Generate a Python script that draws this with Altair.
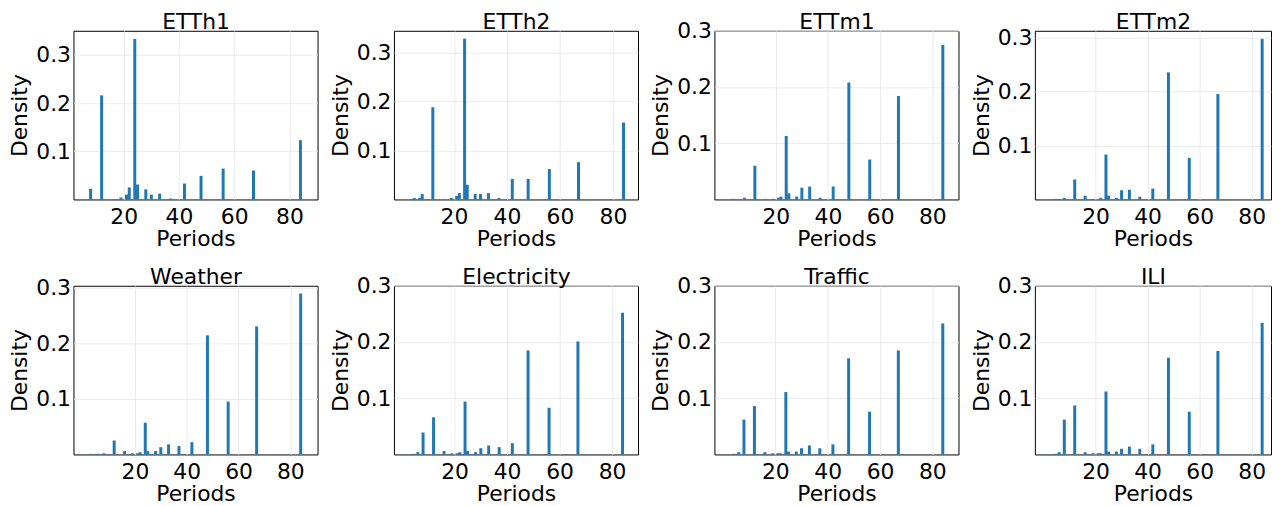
import altair as alt
import pandas as pd

# ---------------- data ----------------
titles = ["ETTh1", "ETTh2", "ETTm1", "ETTm2", "Weather", "Electricity", "Traffic", "ILI"]

periods_etth1 = [8, 12, 19, 21, 22, 24, 25, 28, 30, 33, 37, 42, 48, 56, 67, 84]
density_etth1 = [0.022, 0.216, 0.004, 0.010, 0.025, 0.333, 0.031, 0.021, 0.010, 0.012, 0.002,
                 0.033, 0.049, 0.064, 0.060, 0.123]

periods_etth2 = [4, 5, 7, 8, 12, 16, 19, 21, 22, 24, 25, 28, 30, 33, 37, 42, 48, 56, 67, 84]
density_etth2 = [0.001, 0.003, 0.003, 0.011, 0.188, 0.001, 0.003, 0.007, 0.013, 0.328, 0.030,
                 0.011, 0.011, 0.013, 0.003, 0.042, 0.042, 0.062, 0.076, 0.157]

periods_ettm1 = [3, 4, 6, 8, 12, 16, 19, 21, 22, 24, 25, 28, 30, 33, 37, 42, 48, 56, 67, 84]
density_ettm1 = [0.001, 0.001, 0.001, 0.003, 0.060, 0.001, 0.001, 0.003, 0.005, 0.113, 0.011,
                 0.005, 0.021, 0.023, 0.003, 0.023, 0.208, 0.071, 0.184, 0.275]

periods_ettm2 = [4, 5, 6, 8, 12, 16, 19, 21, 22, 24, 25, 28, 30, 33, 37, 42, 48, 56, 67, 84]
density_ettm2 = [0.001, 0.001, 0.001, 0.003, 0.037, 0.007, 0.001, 0.001, 0.003, 0.083, 0.007,
                 0.003, 0.017, 0.018, 0.005, 0.020, 0.235, 0.077, 0.195, 0.297]

periods_weather = [3, 5, 6, 8, 12, 16, 19, 21, 22, 24, 25, 28, 30, 33, 37, 42, 48, 56, 67, 84]
density_weather = [0.001, 0.001, 0.001, 0.002, 0.025, 0.006, 0.002, 0.002, 0.004, 0.057, 0.006,
                   0.006, 0.013, 0.018, 0.015, 0.022, 0.214, 0.095, 0.230, 0.289]

periods_electricity = [4, 5, 6, 8, 12, 16, 19, 21, 22, 24, 25, 28, 30, 33, 37, 42, 48, 56, 67, 84]
density_electricity = [0.001, 0.001, 0.004, 0.039, 0.066, 0.006, 0.002, 0.002, 0.004, 0.094, 0.006,
                       0.004, 0.011, 0.016, 0.013, 0.020, 0.185, 0.083, 0.201, 0.252]

periods_traffic = [4, 5, 6, 8, 12, 16, 19, 21, 22, 24, 25, 28, 30, 33, 37, 42, 48, 56, 67, 84]
density_traffic = [0.001, 0.001, 0.004, 0.062, 0.086, 0.004, 0.002, 0.002, 0.002, 0.111, 0.005,
                   0.005, 0.011, 0.016, 0.011, 0.018, 0.171, 0.076, 0.185, 0.233]

periods_ili = [4, 5, 6, 8, 12, 16, 19, 21, 22, 24, 25, 28, 30, 33, 37, 42, 48, 56, 67, 84]
density_ili = [0.001, 0.001, 0.004, 0.062, 0.087, 0.004, 0.002, 0.002, 0.002, 0.112, 0.005,
               0.005, 0.010, 0.014, 0.010, 0.018, 0.172, 0.076, 0.184, 0.234]

all_periods = [periods_etth1, periods_etth2, periods_ettm1, periods_ettm2,
               periods_weather, periods_electricity, periods_traffic, periods_ili]
all_density = [density_etth1, density_etth2, density_ettm1, density_ettm2,
               density_weather, density_electricity, density_traffic, density_ili]

x_ticks = [20, 40, 60, 80]
y_ticks = [0.1, 0.2, 0.3]

# axis limits (styling, as in the reference; the right-most panels are cut by the page edge)
x_domains = [[3.6, 88.4], [-0.8, 87.6], [-1.6, 88.1], [-1.4, 85.5],
             [-1.8, 88.6], [-1.2, 88.0], [-1.4, 88.1], [-1.4, 85.5]]
y_domains = [[0, 0.35], [0, 0.344], [0, 0.3], [0, 0.312],
             [0, 0.303], [0, 0.3], [0, 0.3], [0, 0.3]]
widths = [246, 246, 246, 238, 246, 246, 246, 238]

BLUE = "#1f77b4"
FS = 22


def panel(i):
    df = pd.DataFrame({"period": all_periods[i], "density": all_density[i]})
    xs = alt.Scale(domain=x_domains[i], nice=False, zero=False)
    ys = alt.Scale(domain=y_domains[i], nice=False, zero=False)
    bars = alt.Chart(df).mark_bar(size=3, color=BLUE).encode(
        x=alt.X("period:Q", scale=xs,
                axis=alt.Axis(values=x_ticks, title="Periods", format="d",
                              labelPadding=7, titlePadding=1)),
        y=alt.Y("density:Q", scale=ys,
                axis=alt.Axis(values=y_ticks, title="Density", format=".1f",
                              labelPadding=3, titlePadding=4)),
    )
    # panel title drawn as a top-axis title so it sits a fixed distance above the frame
    head = alt.Chart(df).mark_tick(opacity=0).encode(
        x=alt.X("period:Q", scale=xs,
                axis=alt.Axis(orient="top", title=titles[i], labels=False, ticks=False,
                              domain=False, grid=False, titlePadding=2,
                              titleBaseline="alphabetic")),
    )
    return (
        alt.layer(bars, head)
        .resolve_axis(x="independent")
        .properties(width=widths[i], height=170)
    )


row1 = alt.hconcat(*[panel(i) for i in range(4)], spacing=10)
row2 = alt.hconcat(*[panel(i) for i in range(4, 8)], spacing=10)

chart = (
    alt.vconcat(row1, row2, spacing=15)
    .properties(padding={"left": 0, "top": 0, "right": 0, "bottom": 0})
    .configure(font="DejaVu Sans")
    .configure_view(stroke="black", strokeWidth=1)
    .configure_axis(
        grid=True,
        gridColor="#e6e6e6",
        gridWidth=0.8,
        domain=False,
        ticks=False,
        tickSize=0,
        labelFont="DejaVu Sans",
        labelFontSize=FS,
        labelColor="black",
        labelOverlap=False,
        labelFlush=False,
        titleFont="DejaVu Sans",
        titleFontSize=FS,
        titleFontWeight="normal",
        titleColor="black",
    )
)

chart.save("out.html", embed_options={"renderer": "svg", "actions": False})
